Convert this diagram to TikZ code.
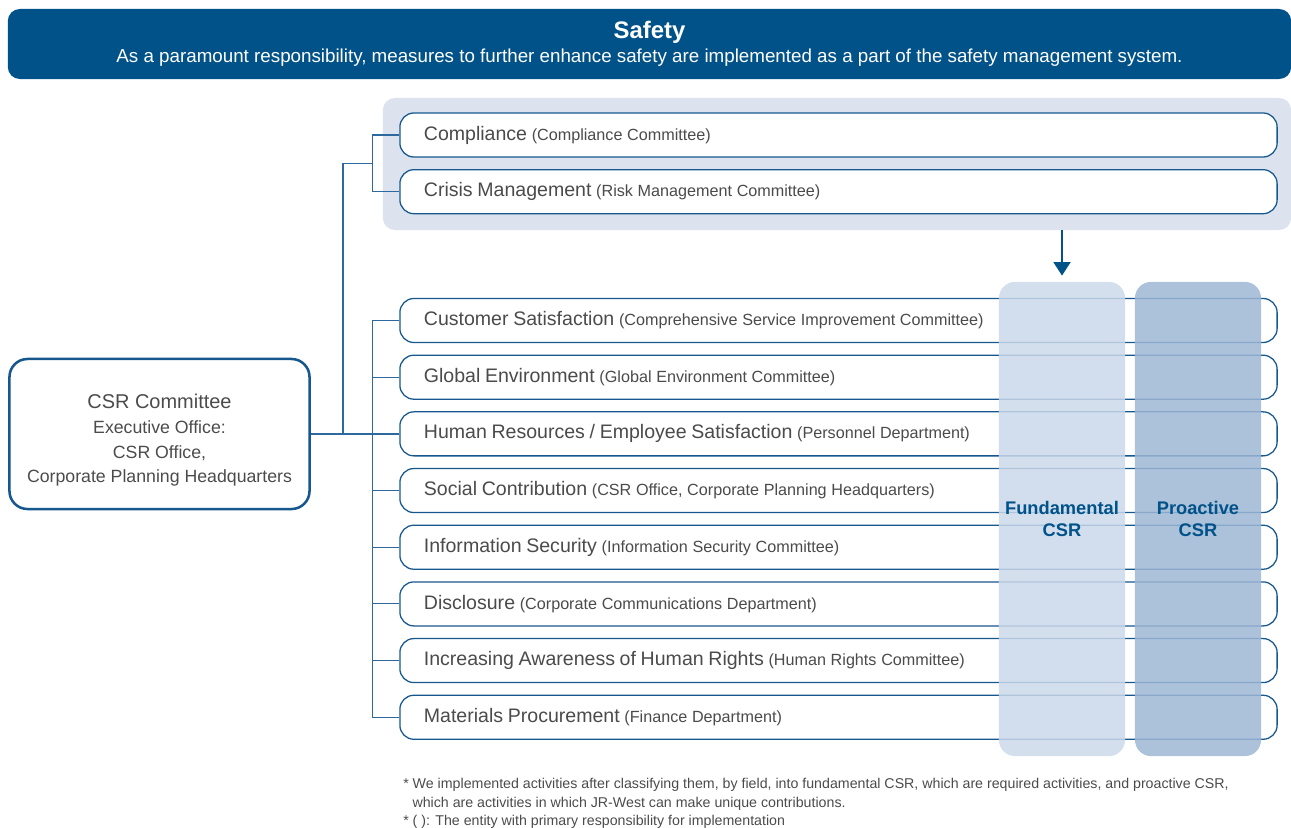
\documentclass[tikz,border=0pt]{standalone}
\usepackage{fontspec}
\setmainfont{Liberation Sans}
\usetikzlibrary{positioning,arrows.meta}
\definecolor{jrblue}{RGB}{0,82,137}
\definecolor{boxblue}{RGB}{22,88,142}
\definecolor{lineblue}{RGB}{45,105,158}
\definecolor{bglight}{RGB}{220,227,239}
\definecolor{fundcol}{RGB}{203,217,234}
\definecolor{proactcol}{RGB}{158,183,212}
\definecolor{tekst}{RGB}{75,75,75}
\newcommand{\mainsz}{\fontsize{13.9}{16}\selectfont}
\newcommand{\subsz}{\fontsize{11.5}{13}\selectfont}

\begin{document}
\begin{tikzpicture}[%
x=0.025cm,y=-0.025cm,
rad/.style={draw=boxblue,line width=0.9pt,rounded corners=0.35cm,fill=white,
  minimum height=1.1cm,text width=20.725cm,inner xsep=0.6cm,inner ysep=0pt,
  align=left,text=tekst},
saule/.style={rounded corners=0.4cm,minimum width=3.15cm,minimum height=11.85cm,
  fill opacity=0.85,text opacity=1,text=jrblue,align=center,
  font=\bfseries\fontsize{13}{15.5}\selectfont},
linje/.style={draw=lineblue,line width=0.8pt},
pil/.style={draw=jrblue,line width=1.8pt,-{Triangle[width=0.42cm,length=0.34cm]}},
node distance=0.285cm]
\useasboundingbox (0,0) rectangle (1291,828);
% banner
\node [fill=jrblue,rounded corners=0.3cm,minimum width=32.075cm,minimum height=1.75cm,
  text=white,align=center] (safety) at (649.5,44)
  {\bfseries\fontsize{17}{18}\selectfont Safety\\[2.5pt]
   \mdseries\fontsize{13.35}{15}\selectfont As a paramount responsibility, measures to further enhance safety are implemented as a part of the safety management system.};
\node [fill=bglight,rounded corners=0.3cm,minimum width=22.7cm,minimum height=3.3cm] (ramme) at (837,164) {};
% committee
\node [draw=boxblue,line width=1.8pt,rounded corners=0.45cm,minimum width=7.5cm,
  minimum height=3.75cm,align=center,text=tekst,
  font=\fontsize{12.6}{17.4}\selectfont] (csr) at (159.5,434)
  {{\fontsize{14.2}{17}\selectfont\rule{0pt}{19pt}CSR Committee}\\[1pt]
   Executive Office:\\CSR Office,\\Corporate Planning Headquarters};
% fields
\node [rad] (compl) at (838.5,135) {{\mainsz Compliance} {\subsz (Compliance Committee)}};
\node [rad,below=of compl] (crisis) {{\mainsz Crisis Management} {\subsz (Risk Management Committee)}};
\node [rad] (r1) at (838.5,320.5) {{\mainsz Customer Satisfaction} {\subsz (Comprehensive Service Improvement Committee)}};
\node [rad,below=of r1] (r2) {{\mainsz Global Environment} {\subsz (Global Environment Committee)}};
\node [rad,below=of r2] (r3) {{\mainsz Human Resources / Employee Satisfaction} {\subsz (Personnel Department)}};
\node [rad,below=of r3] (r4) {{\mainsz Social Contribution} {\subsz (CSR Office, Corporate Planning Headquarters)}};
\node [rad,below=of r4] (r5) {{\mainsz Information Security} {\subsz (Information Security Committee)}};
\node [rad,below=of r5] (r6) {{\mainsz Disclosure} {\subsz (Corporate Communications Department)}};
\node [rad,below=of r6] (r7) {{\mainsz Increasing Awareness of Human Rights} {\subsz (Human Rights Committee)}};
\node [rad,below=of r7] (r8) {{\mainsz Materials Procurement} {\subsz (Finance Department)}};
% connectors
\coordinate (grein) at (343,434);
\coordinate (topp) at (373,163.5);
\draw [linje] (csr.east)  -- (csr.east -| r3.west);
\draw [linje] (grein)     |- (topp);
\draw [linje] (compl.west) -- ++(-27,0) |- (crisis.west);
\draw [linje] (r1.west)   -- ++(-27,0) |- (r8.west);
\draw [linje] (r2.west)   -- ++(-27,0);
\draw [linje] (r4.west)   -- ++(-27,0);
\draw [linje] (r5.west)   -- ++(-27,0);
\draw [linje] (r6.west)   -- ++(-27,0);
\draw [linje] (r7.west)   -- ++(-27,0);
% CSR columns
\node [saule,fill=fundcol] (fund) at (1062,519) {Fundamental\\CSR};
\node [saule,fill=proactcol] (proact) at (1198,519) {Proactive\\CSR};
\draw [pil] (ramme.south -| fund.north) -- ([yshift=0.15cm]fund.north);
% notes
\node [anchor=north west,inner sep=0pt,align=left,text=tekst,
  font=\fontsize{10.1}{13.2}\selectfont] (noter) at (403,778)
  {* We implemented activities after classifying them, by field, into fundamental CSR, which are required activities, and proactive CSR,\\
   \hspace*{0.65em}which are activities in which JR-West can make unique contributions.\\
   * ( ): The entity with primary responsibility for implementation};
\end{tikzpicture}
\end{document}
